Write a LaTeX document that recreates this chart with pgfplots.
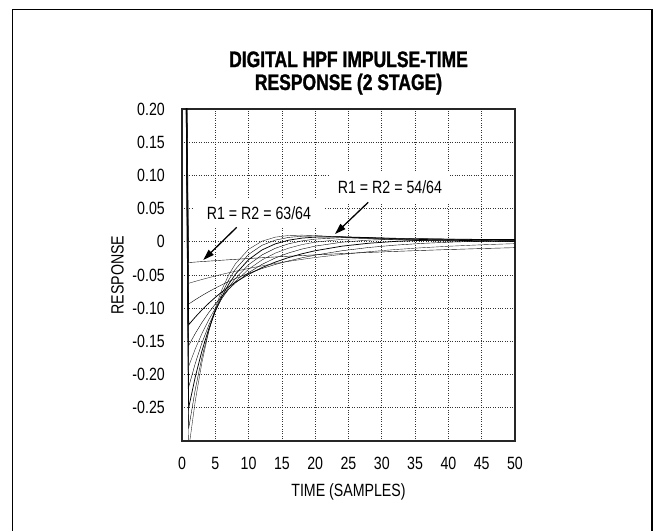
\documentclass[border=0pt]{standalone}
\usepackage{fontspec}
\setmainfont{Liberation Sans}[FakeStretch=0.8]
\newfontfamily\titlefont{Liberation Sans}[FakeStretch=0.78, BoldFeatures={FakeBold=1.2}]
\usepackage{pgfplots}
\pgfplotsset{compat=1.18}
\usepackage{pgfplotstable}
\usetikzlibrary{arrows.meta}
\newcommand{\lbl}{\fontsize{17.8}{21}\selectfont}

\pgfplotstableread{
n   r54       r55       r56       r57       r58       r59       r60       r61       r62       r63
0   1         1         1         1         1         1         1         1         1         1
1  -0.3125   -0.28125  -0.25     -0.21875  -0.1875   -0.15625  -0.125    -0.09375  -0.0625   -0.03125
2  -0.239258 -0.221924 -0.203125 -0.182861 -0.161133 -0.137939 -0.113281 -0.087158 -0.059570 -0.030518
3  -0.181274 -0.173721 -0.164063 -0.152206 -0.138062 -0.121536 -0.102539 -0.080978 -0.056763 -0.029800
4  -0.135570 -0.134687 -0.131592 -0.126070 -0.117900 -0.106854 -0.092697 -0.075187 -0.054072 -0.029098
5  -0.099722 -0.103196 -0.104675 -0.103830 -0.100305 -0.093725 -0.083685 -0.069759 -0.051495 -0.028411
6  -0.071767 -0.077898 -0.082432 -0.084947 -0.084973 -0.081994 -0.075437 -0.064676 -0.049025 -0.027738
7  -0.050113 -0.057675 -0.064114 -0.068952 -0.071635 -0.071524 -0.067893 -0.059916 -0.046661 -0.027079
8  -0.033474 -0.041598 -0.049087 -0.055440 -0.060049 -0.062190 -0.060998 -0.055461 -0.044395 -0.026433
10 -0.011288 -0.018956 -0.026844 -0.034504 -0.041320 -0.046484 -0.048950 -0.047390 -0.040149 -0.025183
12  0.000893 -0.005310 -0.012332 -0.019856 -0.027368 -0.034093 -0.038925 -0.040332 -0.036257 -0.023985
14  0.006992  0.002496 -0.003147 -0.009791 -0.017082 -0.024375 -0.030610 -0.034169 -0.032692 -0.022837
16  0.009503  0.006582  0.002410 -0.003039 -0.009599 -0.016807 -0.023738 -0.028797 -0.029428 -0.021738
18  0.009987  0.008361  0.005534  0.001339 -0.004245 -0.010962 -0.018082 -0.024122 -0.026442 -0.020684
20  0.009404  0.008760  0.007062  0.004036 -0.000498 -0.006493 -0.013447 -0.020062 -0.023713 -0.019675
24  0.007091  0.007597  0.007451  0.006282  0.003696 -0.000612 -0.006610 -0.013500 -0.018942 -0.017783
28  0.004772  0.005682  0.006309  0.006308  0.005212  0.002503 -0.002188 -0.008619 -0.014972 -0.016049
32  0.003016  0.003938  0.004836  0.005450  0.005350  0.003935  0.000563 -0.005031 -0.011679 -0.014460
36  0.001831  0.002605  0.003502  0.004362  0.004846  0.004379  0.002176 -0.002434 -0.008959 -0.013006
40  0.001081  0.001670  0.002444  0.003331  0.004103  0.004272  0.003026 -0.000591 -0.006722 -0.011675
45  0.000544  0.000929  0.001504  0.002277  0.003146  0.003768  0.003409  0.000929 -0.004488 -0.010171
50  0.000268  0.000504  0.000900  0.001506  0.002313  0.003124  0.003351  0.001828 -0.002766 -0.008828
}\datatable

\begin{document}
\begin{tikzpicture}
\path[use as bounding box] (-182bp,-90bp) rectangle (474bp,441bp);
\draw[line width=1.5bp, black] (-169.3bp,-100bp) |- (470bp,431.5bp) -- (470bp,-100bp);
\begin{axis}[
  at={(0,0)}, anchor=south west,
  scale only axis, width=333bp, height=332bp,
  xmin=0, xmax=50, ymin=-0.30, ymax=0.20,
  xtick={0,5,10,15,20,25,30,35,40,45,50},
  xticklabels={0,5,10,15,20,25,30,35,40,45,50},
  ytick={-0.25,-0.2,-0.15,-0.1,-0.05,0,0.05,0.1,0.15,0.2},
  yticklabels={-0.25,-0.20,-0.15,-0.10,-0.05,0,0.05,0.10,0.15,0.20},
  grid=major,
  major grid style={dotted, line width=0.6bp, black!80},
  major tick length=0pt,
  axis line style={line width=1.5bp, black!85},
  tick label style={font=\lbl},
  xticklabel style={inner sep=0pt, anchor=north, yshift=-16bp},
  yticklabel style={inner sep=0pt, anchor=east, xshift=-17bp},
  clip mode=individual,
  cycle list={{black!85, solid, line width=0.75bp, mark=none}},
]
\addplot table[x=n, y=r54] {\datatable};
\addplot table[x=n, y=r55] {\datatable};
\addplot table[x=n, y=r56] {\datatable};
\addplot table[x=n, y=r57] {\datatable};
\addplot table[x=n, y=r58] {\datatable};
\addplot table[x=n, y=r59] {\datatable};
\addplot table[x=n, y=r60] {\datatable};
\addplot table[x=n, y=r61] {\datatable};
\addplot table[x=n, y=r62] {\datatable};
\addplot table[x=n, y=r63] {\datatable};
\node[fill=white, inner xsep=13bp, inner ysep=7bp, font=\lbl] at (axis cs:11.56,0.0434) {R1 = R2 = 63/64};
\node[fill=white, inner xsep=8bp, inner ysep=9bp, font=\lbl] at (axis cs:31.23,0.0825) {R1 = R2 = 54/64};
\draw[-{Triangle[length=11bp,width=7bp]}, line width=1.3bp] (axis cs:8.21,0.0218) -- (axis cs:3.20,-0.0274);
\draw[-{Triangle[length=11bp,width=7bp]}, line width=1.3bp] (axis cs:27.97,0.0595) -- (axis cs:22.97,0.0117);
\end{axis}
\node[font=\titlefont\bfseries\fontsize{22.5}{23}\selectfont, align=center] at (166.5bp,368bp) {DIGITAL HPF IMPULSE-TIME\\RESPONSE (2 STAGE)};
\node[font=\lbl, inner sep=0pt, anchor=north] at (166.5bp,-42bp) {TIME (SAMPLES)};
\node[font=\lbl, rotate=90, inner sep=0pt] at (-64.5bp,166bp) {RESPONSE};
\end{tikzpicture}
\end{document}
